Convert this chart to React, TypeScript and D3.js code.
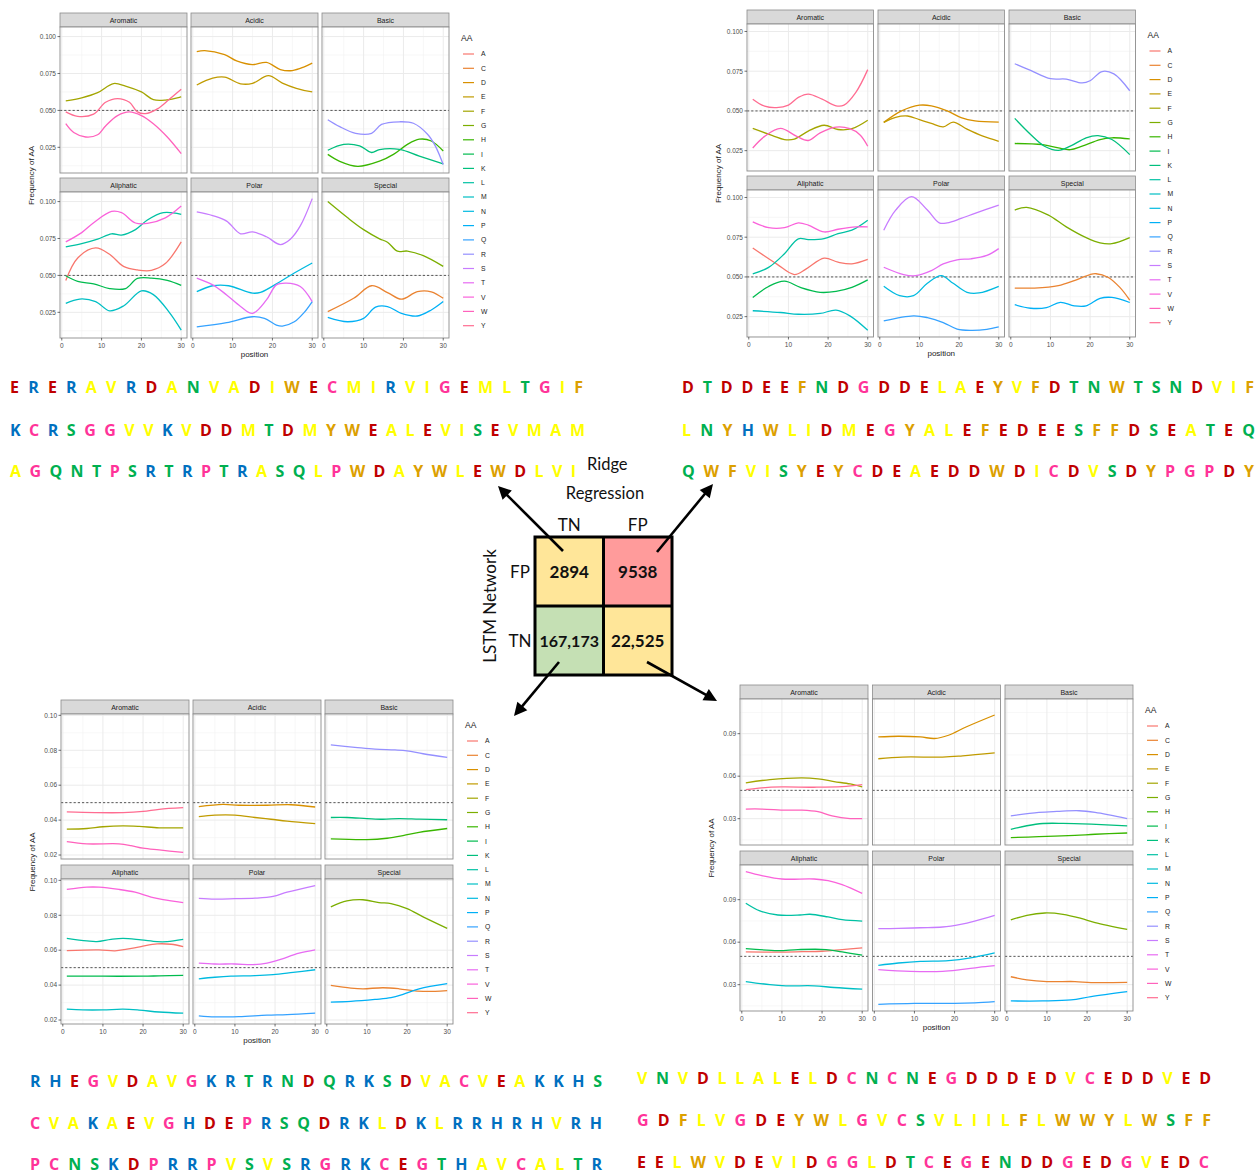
import React from 'react';
import * as d3 from 'd3';

const W = 1259;
const H = 1174;

// amino acid levels in legend order
const aaLevels = ['A', 'C', 'D', 'E', 'F', 'G', 'H', 'I', 'K', 'L', 'M', 'N', 'P', 'Q', 'R', 'S', 'T', 'V', 'W', 'Y'];
// ggplot default hue palette for 20 levels
const aaPalette = ['#F8766D', '#EA8331', '#D89000', '#C09B00', '#A3A500', '#7CAE00', '#39B600', '#00BB4E', '#00BF7D', '#00C1A3',
  '#00BFC4', '#00BAE0', '#00B0F6', '#35A2FF', '#9590FF', '#C77CFF', '#E76BF3', '#FA62DB', '#FF62BC', '#FF6C91'];
const facetNames = ['Aromatic', 'Acidic', 'Basic', 'Aliphatic', 'Polar', 'Special'];
const facetMembers = [['F', 'W', 'Y'], ['D', 'E'], ['H', 'K', 'R'], ['A', 'I', 'L', 'M', 'V'], ['N', 'Q', 'S', 'T'], ['C', 'G', 'P']];
const xTicks = [0, 10, 20, 30];
const xMinor = [5, 15, 25];

// smoothed frequency per position, [position, frequency]
const tlFreq: Record<string, number[][]> = {
  F: [[1, 0.0565], [5, 0.0585], [9, 0.062], [13, 0.0682], [16, 0.0665], [20, 0.0625], [23, 0.0573], [26, 0.057], [30, 0.0592]],
  Y: [[1, 0.049], [4, 0.046], [8, 0.0475], [11, 0.0555], [14, 0.058], [17, 0.0555], [19, 0.049], [21, 0.0478], [24, 0.051], [27, 0.0575], [30, 0.0643]],
  W: [[1, 0.041], [3, 0.035], [6, 0.032], [9, 0.0335], [11, 0.0395], [14, 0.0465], [17, 0.049], [20, 0.0465], [23, 0.041], [26.5, 0.032], [30, 0.0207]],
  D: [[1, 0.0898], [3, 0.0905], [8, 0.0878], [11, 0.0835], [15, 0.081], [18.5, 0.0825], [22, 0.0777], [25, 0.077], [28, 0.0795], [30, 0.082]],
  E: [[1, 0.0672], [5, 0.0718], [8, 0.0725], [12, 0.068], [15, 0.0683], [19, 0.0735], [22.5, 0.0685], [26, 0.065], [30, 0.0625]],
  R: [[1, 0.0437], [4, 0.039], [8, 0.0345], [12, 0.0345], [14.5, 0.0405], [19, 0.0423], [22.5, 0.0413], [26, 0.034], [28, 0.026], [30, 0.0133]],
  K: [[1, 0.023], [5, 0.027], [9, 0.026], [12, 0.0215], [14, 0.0235], [19, 0.0236], [24, 0.019], [30, 0.0138]],
  H: [[1, 0.0202], [4, 0.0155], [8.5, 0.0121], [14, 0.0156], [17.5, 0.0202], [21, 0.027], [24, 0.0305], [27, 0.0293], [30, 0.0225]],
  V: [[1, 0.0727], [5, 0.079], [8, 0.0857], [12.5, 0.0933], [15, 0.0925], [18.5, 0.0855], [21.5, 0.0852], [26, 0.089], [30, 0.097]],
  L: [[1, 0.0693], [5, 0.0715], [9, 0.0745], [12.5, 0.0782], [15, 0.0773], [18.5, 0.081], [21.5, 0.0875], [25.5, 0.0925], [30, 0.0914]],
  A: [[1, 0.0466], [4, 0.0618], [8.5, 0.0686], [12, 0.0643], [15.5, 0.0561], [19, 0.0537], [22.5, 0.0534], [26, 0.058], [30, 0.0727]],
  I: [[1, 0.0498], [4, 0.046], [8, 0.0443], [12, 0.0411], [16, 0.0411], [19, 0.048], [22.5, 0.0482], [26.5, 0.0466], [30, 0.0432]],
  M: [[1, 0.0311], [4.5, 0.034], [8.5, 0.0323], [12, 0.026], [15.5, 0.0293], [20, 0.0395], [23, 0.037], [27, 0.025], [30, 0.013]],
  S: [[1, 0.093], [5, 0.0905], [8.5, 0.0868], [12, 0.0782], [15, 0.0795], [18.5, 0.0762], [22, 0.0709], [24.5, 0.0745], [27, 0.0835], [30, 0.102]],
  N: [[1, 0.039], [5, 0.043], [9, 0.043], [15, 0.038], [17, 0.0385], [22, 0.0459], [25.5, 0.0516], [30, 0.0584]],
  T: [[1, 0.0482], [5, 0.0436], [8.5, 0.0368], [12, 0.029], [15, 0.0243], [18.5, 0.0334], [21, 0.0436], [23.5, 0.0448], [27, 0.0425], [30, 0.0323]],
  Q: [[1, 0.0152], [8.5, 0.018], [15, 0.022], [18, 0.0209], [21, 0.0164], [22.5, 0.0157], [25.5, 0.0186], [28, 0.025], [30, 0.0323]],
  G: [[1, 0.1], [6, 0.089], [10, 0.081], [14, 0.0748], [16, 0.0725], [18.5, 0.0664], [21, 0.0665], [25, 0.0634], [30, 0.0561]],
  C: [[1, 0.0255], [7.5, 0.0345], [12, 0.043], [16, 0.0384], [19.5, 0.0339], [23.5, 0.039], [27, 0.0389], [30, 0.0345]],
  P: [[1, 0.0216], [6, 0.0186], [10, 0.0209], [13, 0.0285], [16, 0.0289], [19.5, 0.0243], [23.5, 0.0225], [27, 0.0266], [30, 0.0323]],
};

const trFreq: Record<string, number[][]> = {
  Y: [[1, 0.0574], [4, 0.053], [7, 0.0521], [10, 0.0537], [12.5, 0.0585], [15, 0.0606], [18.5, 0.0574], [22, 0.0532], [24, 0.0536], [27, 0.0617], [30, 0.076]],
  F: [[1, 0.039], [6, 0.0345], [9, 0.032], [11.5, 0.0323], [15, 0.0373], [19, 0.041], [22.5, 0.0383], [26, 0.0388], [30, 0.0441]],
  W: [[1, 0.0267], [4, 0.034], [8, 0.039], [12, 0.0341], [15, 0.0314], [18, 0.0362], [22, 0.0398], [25.5, 0.0388], [28, 0.035], [30, 0.0278]],
  D: [[1, 0.0428], [5.5, 0.05], [10, 0.0536], [13, 0.0532], [17, 0.05], [20.5, 0.0458], [24, 0.0437], [30, 0.043]],
  E: [[1, 0.0428], [4, 0.046], [7, 0.0468], [10, 0.0445], [13, 0.0422], [16, 0.04], [18.5, 0.043], [22, 0.0385], [26, 0.0341], [30, 0.0309]],
  R: [[1, 0.0797], [5, 0.0755], [10, 0.0703], [14, 0.07], [18, 0.0676], [20, 0.069], [23, 0.0748], [26, 0.0733], [30, 0.0627]],
  K: [[1, 0.0453], [5, 0.0352], [8.5, 0.0278], [12, 0.0252], [15, 0.0278], [19, 0.0331], [22, 0.0345], [25.5, 0.032], [30, 0.0225]],
  H: [[1, 0.0295], [8, 0.0288], [12, 0.0267], [15, 0.0256], [18, 0.0278], [22.5, 0.032], [25.5, 0.0331], [30, 0.0324]],
  V: [[1, 0.0847], [5, 0.081], [9, 0.081], [12.5, 0.084], [15, 0.0826], [19, 0.0783], [22.5, 0.08], [27, 0.0815], [30, 0.0815]],
  L: [[1, 0.0519], [5, 0.056], [9, 0.0646], [12.5, 0.074], [15, 0.0735], [19, 0.0741], [22.5, 0.0773], [26, 0.0794], [30, 0.0857]],
  A: [[1, 0.0682], [7, 0.0582], [11.5, 0.0515], [14.5, 0.0551], [19, 0.0618], [22.5, 0.0593], [26, 0.0582], [30, 0.061]],
  I: [[1, 0.0371], [5, 0.044], [9, 0.0473], [13, 0.0434], [18, 0.0403], [22, 0.0409], [26, 0.0434], [30, 0.0481]],
  M: [[1, 0.0287], [8, 0.0276], [12.5, 0.0265], [18, 0.027], [22, 0.0291], [25.5, 0.0255], [30, 0.0164]],
  S: [[1, 0.0794], [4, 0.092], [8, 0.1005], [12, 0.0921], [15, 0.084], [17, 0.084], [20.5, 0.0868], [24, 0.09], [30, 0.0952]],
  T: [[1, 0.0561], [6, 0.0515], [9, 0.0508], [13, 0.054], [16, 0.0582], [19.5, 0.0608], [23, 0.0614], [27, 0.0635], [30, 0.0678]],
  N: [[1, 0.0441], [5, 0.0382], [8.5, 0.0382], [12, 0.046], [15.5, 0.0508], [18.5, 0.046], [22, 0.0403], [25, 0.0399], [30, 0.0441]],
  Q: [[1, 0.0223], [8.5, 0.0255], [12, 0.0244], [16, 0.0213], [19.5, 0.0172], [23, 0.0164], [27, 0.017], [30, 0.0185]],
  G: [[1, 0.0921], [4, 0.0938], [9.5, 0.0889], [14, 0.0815], [19, 0.0747], [22.5, 0.0714], [25.5, 0.0709], [30, 0.0747]],
  C: [[1, 0.043], [6, 0.043], [12, 0.0445], [16, 0.0477], [20, 0.0515], [21.5, 0.052], [24.5, 0.0498], [27.5, 0.0434], [30, 0.0354]],
  P: [[1, 0.0325], [5, 0.0303], [9, 0.0307], [12.5, 0.034], [16, 0.0318], [19, 0.0318], [22.5, 0.0365], [25.5, 0.0371], [30, 0.0339]],
};

const blFreq: Record<string, number[][]> = {
  Y: [[1, 0.0447], [8, 0.0443], [15, 0.0443], [20, 0.045], [24, 0.0462], [30, 0.0471]],
  F: [[1, 0.0348], [6, 0.0352], [10, 0.0362], [15, 0.0367], [19, 0.0364], [24, 0.0356], [30, 0.0356]],
  W: [[1, 0.0277], [6, 0.0264], [14, 0.0264], [17, 0.0254], [20, 0.0239], [24, 0.0229], [30, 0.0215]],
  D: [[1, 0.0477], [7, 0.049], [11, 0.0485], [18, 0.0485], [24, 0.0488], [30, 0.0475]],
  E: [[1, 0.042], [5, 0.0428], [10, 0.0428], [15, 0.0415], [19, 0.0405], [23, 0.0394], [30, 0.038]],
  R: [[1, 0.0831], [7, 0.0817], [12, 0.0806], [17, 0.0802], [20, 0.0797], [24, 0.078], [30, 0.0759]],
  K: [[1, 0.0415], [5, 0.0415], [10, 0.0409], [14, 0.0405], [18, 0.0409], [23, 0.0406], [30, 0.0402]],
  H: [[1, 0.0292], [10, 0.0288], [15, 0.0296], [19, 0.0311], [23, 0.033], [30, 0.0352]],
  V: [[1, 0.0948], [6, 0.0961], [9, 0.0961], [14, 0.0948], [18, 0.0932], [22, 0.0904], [25, 0.0889], [30, 0.0872]],
  L: [[1, 0.0668], [6, 0.0653], [8.5, 0.0649], [12, 0.0662], [15, 0.0668], [19.5, 0.0659], [23.5, 0.0649], [26, 0.0649], [30, 0.0662]],
  A: [[1, 0.0598], [9, 0.0602], [13, 0.0596], [16, 0.0606], [19.5, 0.0621], [23.5, 0.0636], [27, 0.0634], [30, 0.0621]],
  I: [[1, 0.0451], [10, 0.0451], [20, 0.0451], [24, 0.0453], [30, 0.0456]],
  M: [[1, 0.0262], [5, 0.0258], [10, 0.0258], [15, 0.0262], [19, 0.0257], [24, 0.0246], [30, 0.0239]],
  S: [[1, 0.0897], [5, 0.0893], [10, 0.0895], [15, 0.0898], [19.5, 0.0908], [23, 0.0932], [30, 0.097]],
  T: [[1, 0.0526], [5, 0.0521], [10, 0.0521], [14.5, 0.0517], [18, 0.0526], [21, 0.0545], [26, 0.0583], [30, 0.0602]],
  N: [[1, 0.0436], [5, 0.0445], [9, 0.0451], [15, 0.0454], [19.5, 0.046], [24.5, 0.0473], [30, 0.0488]],
  Q: [[1, 0.0224], [5, 0.0218], [11, 0.022], [18, 0.0228], [23, 0.0231], [30, 0.0239]],
  G: [[1, 0.0848], [5, 0.0882], [9, 0.0889], [13, 0.0873], [16, 0.0867], [20, 0.0838], [24, 0.0791], [30, 0.0725]],
  C: [[1, 0.0398], [6, 0.0383], [9, 0.0379], [14, 0.0385], [18, 0.0379], [22.5, 0.0366], [27, 0.0364], [30, 0.0369]],
  P: [[1, 0.0303], [6, 0.0307], [12, 0.0318], [16, 0.0328], [19, 0.0347], [23, 0.0379], [30, 0.0409]],
};

const brFreq: Record<string, number[][]> = {
  F: [[1, 0.0553], [7, 0.0576], [15, 0.0588], [19, 0.0581], [23, 0.0562], [27, 0.0545], [30, 0.0525]],
  Y: [[1, 0.0505], [5, 0.0518], [10, 0.0524], [18, 0.0522], [25, 0.0526], [30, 0.054]],
  W: [[1, 0.0368], [5, 0.0368], [11, 0.036], [15, 0.036], [19, 0.0349], [22.5, 0.032], [27, 0.0301], [30, 0.0301]],
  D: [[1, 0.0877], [6, 0.0882], [11.5, 0.0877], [15, 0.0866], [18.5, 0.0889], [23, 0.0949], [30, 0.1032]],
  E: [[1, 0.0723], [7, 0.0735], [17, 0.0735], [22, 0.0744], [30, 0.0764]],
  R: [[1, 0.032], [8, 0.0344], [12.5, 0.0351], [18, 0.0356], [22, 0.0344], [30, 0.0301]],
  K: [[1, 0.0224], [5, 0.025], [9, 0.0266], [14, 0.0267], [21, 0.0261], [30, 0.0249]],
  H: [[1, 0.0166], [8, 0.0173], [17, 0.0182], [22, 0.019], [30, 0.0199]],
  V: [[1, 0.1098], [5, 0.107], [10, 0.1046], [18, 0.1046], [21.5, 0.1034], [25, 0.1006], [30, 0.0944]],
  L: [[1, 0.0875], [4.5, 0.0821], [9, 0.0792], [14.5, 0.0792], [17, 0.0797], [21.5, 0.0778], [25, 0.0759], [30, 0.0749]],
  I: [[1, 0.0555], [9, 0.0541], [14, 0.0548], [21, 0.0548], [25, 0.0531], [30, 0.0508]],
  A: [[1, 0.0531], [9, 0.053], [15, 0.0533], [20, 0.0536], [25, 0.0548], [30, 0.056]],
  M: [[1, 0.0322], [7, 0.03], [11, 0.0292], [18, 0.0292], [23, 0.028], [30, 0.0268]],
  S: [[1, 0.0695], [6, 0.0697], [11.5, 0.0702], [17, 0.0707], [21.5, 0.0726], [25, 0.0749], [30, 0.079]],
  N: [[1, 0.0436], [6, 0.0453], [11.5, 0.0465], [18.5, 0.047], [24, 0.0489], [30, 0.0524]],
  T: [[1, 0.0406], [9, 0.0394], [17, 0.0394], [21.5, 0.0406], [26, 0.0422], [30, 0.0434]],
  Q: [[1, 0.0161], [10, 0.0168], [20, 0.0168], [25, 0.0172], [30, 0.018]],
  G: [[1, 0.0757], [5, 0.079], [9.5, 0.0806], [14, 0.0797], [18.5, 0.0768], [22, 0.0738], [30, 0.069]],
  C: [[1, 0.0356], [5, 0.0334], [10, 0.0322], [17, 0.0322], [21, 0.0315], [30, 0.0316]],
  P: [[1, 0.0185], [9, 0.0185], [16, 0.0192], [21, 0.0216], [30, 0.0251]],
};

// y ticks per chart
const tlTicks = [0.025, 0.05, 0.075, 0.1];
const trTicks = [0.025, 0.05, 0.075, 0.1];
const blTicks = [0.02, 0.04, 0.06, 0.08, 0.1];
const brTicks = [0.03, 0.06, 0.09];

// sequences of each block
const tlSeq = ['ERERAVRDANVADIWECMIRVIGEMLTGIF', 'KCRSGGVVKVDDMTDMYWEALEVISEVMAM', 'AGQNTPSRTRPTRASQLPWDAYWLEWDLVI'];
const trSeq = ['DTDDEEFNDGDDELAEYVFDTNWTSNDVIF', 'LNYHWLIDMEGYALEFEDEESFFDSEATEQ', 'QWFVISYEYCDEAEDDWDICDVSDYPGPDY'];
const blSeq = ['RHEGVDAVGKRTRNDQRKSDVACVEAKKHS', 'CVAKAEVGHDEPRSQDRKLDKLRRHRHVRH', 'PCNSKDPRRPVSVSRGRKCEGTHAVCALTR'];
const brSeq = ['VNVDLLALELDCNCNEGDDDEDVCEDDVED', 'GDFLVGDEYWLGVCSVLIILFLWWYLWSFF', 'EELWVDEVIDGGLDTCEGENDDGEDGVEDC'];

// confusion matrix counts
const rowLabels = ['FP', 'TN'];
const colLabels = ['TN', 'FP'];
const counts = [['2894', '9538'], ['167,173', '22,525']];
const cellFill = [['#ffe699', '#ff9b9b'], ['#c5e0b4', '#ffe699']];

const groupColor: Record<string, string> = {
  D: '#c00000', E: '#c00000',
  H: '#0070c0', K: '#0070c0', R: '#0070c0',
  A: '#ffff00', I: '#ffff00', L: '#ffff00', M: '#ffff00', V: '#ffff00',
  F: '#dca000', W: '#dca000', Y: '#dca000',
  N: '#00b050', Q: '#00b050', S: '#00b050', T: '#00b050',
  C: '#ff3399', G: '#ff3399', P: '#ff3399',
};

const hue = d3.scaleOrdinal<string, string>().domain(aaLevels).range(aaPalette);

const gg = 'Liberation Sans, Arial, sans-serif';

const FacetChart = ({cfg, series}) => {
  const {left, top, panelW, gapX, stripH, panelH, gapY, ticks, fmt} = cfg;
  const vals = Object.values(series).flat().map((d: any) => d[1]);
  const [lo, hi] = d3.extent(vals) as [number, number];
  const pad = (hi - lo) * 0.05;
  const y = d3.scaleLinear().domain([lo - pad, hi + pad]).range([panelH, 0]);
  const x = d3.scaleLinear().domain([1 - 29 * 0.05, 30 + 29 * 0.05]).range([0, panelW]);
  const step = ticks[1] - ticks[0];
  const minor = d3.range(ticks[0] - step / 2, hi + pad, step).filter(v => v > lo - pad);
  const line = d3.line<number[]>().x(d => x(d[0])).y(d => y(d[1])).curve(d3.curveCatmullRom.alpha(0.5));
  const f = d3.format(fmt);
  const rightEdge = left + 3 * panelW + 2 * gapX;
  const fullBottom = top + 2 * (stripH + panelH) + gapY;
  const lx = rightEdge + 13;

  return (
    <g>
      {facetNames.map((name, i) => {
        const col = i % 3;
        const row = Math.floor(i / 3);
        const px = left + col * (panelW + gapX);
        const sy = top + row * (stripH + panelH + gapY);
        const py = sy + stripH;
        return (
          <g key={name}>
            <rect x={px} y={sy} width={panelW} height={stripH} fill="#d9d9d9" stroke="#8c8c8c" strokeWidth={0.8} />
            <text x={px + panelW / 2} y={sy + stripH / 2 + 2.5} textAnchor="middle" fontSize={7} fontFamily={gg} fill="#1a1a1a">{name}</text>
            <g transform={`translate(${px},${py})`}>
              <rect width={panelW} height={panelH} fill="#fff" />
              {minor.map(v => <line key={'ym' + v} x1={0} x2={panelW} y1={y(v)} y2={y(v)} stroke="#f2f2f2" strokeWidth={0.6} />)}
              {xMinor.map(v => <line key={'xm' + v} y1={0} y2={panelH} x1={x(v)} x2={x(v)} stroke="#f2f2f2" strokeWidth={0.6} />)}
              {ticks.map(v => <line key={'y' + v} x1={0} x2={panelW} y1={y(v)} y2={y(v)} stroke="#ebebeb" strokeWidth={1} />)}
              {xTicks.map(v => <line key={'x' + v} y1={0} y2={panelH} x1={x(v)} x2={x(v)} stroke="#ebebeb" strokeWidth={1} />)}
              <line x1={0} x2={panelW} y1={y(0.05)} y2={y(0.05)} stroke="#444" strokeWidth={0.9} strokeDasharray="2.2,2" />
              {facetMembers[i].slice().sort((a, b) => aaLevels.indexOf(a) - aaLevels.indexOf(b)).map(aa => (
                <path key={aa} d={line(series[aa]) || ''} fill="none" stroke={hue(aa)} strokeWidth={1.3} />
              ))}
              <rect width={panelW} height={panelH} fill="none" stroke="#8c8c8c" strokeWidth={0.9} />
              {col === 0 && ticks.map(v => (
                <g key={'yl' + v}>
                  <line x1={-2.5} x2={0} y1={y(v)} y2={y(v)} stroke="#333" strokeWidth={0.7} />
                  <text x={-4} y={y(v) + 2.3} textAnchor="end" fontSize={6.5} fontFamily={gg} fill="#4d4d4d">{f(v)}</text>
                </g>
              ))}
              {row === 1 && xTicks.map(v => (
                <g key={'xl' + v}>
                  <line x1={x(v)} x2={x(v)} y1={panelH} y2={panelH + 2.5} stroke="#333" strokeWidth={0.7} />
                  <text x={x(v)} y={panelH + 9.5} textAnchor="middle" fontSize={6.5} fontFamily={gg} fill="#4d4d4d">{v}</text>
                </g>
              ))}
            </g>
          </g>
        );
      })}
      <text transform={`translate(${left - 26},${(top + fullBottom) / 2}) rotate(-90)`} textAnchor="middle" fontSize={8} fontFamily={gg} fill="#1a1a1a">Frequency of AA</text>
      <text x={left + 1.5 * panelW + gapX} y={fullBottom + 19} textAnchor="middle" fontSize={8} fontFamily={gg} fill="#1a1a1a">position</text>
      <text x={lx - 1} y={top + 28} fontSize={8.5} fontFamily={gg} fill="#1a1a1a">AA</text>
      {aaLevels.map((aa, i) => {
        const ly = top + 41 + i * 14.3;
        return (
          <g key={aa}>
            <line x1={lx + 1} x2={lx + 12} y1={ly} y2={ly} stroke={hue(aa)} strokeWidth={1.2} />
            <text x={lx + 19} y={ly + 2.4} fontSize={6.8} fontFamily={gg} fill="#1a1a1a">{aa}</text>
          </g>
        );
      })}
    </g>
  );
};

const SeqBlock = ({rows, x, widths, ys}) => (
  <g>
    {rows.map((s: string, r: number) => (
      <text key={r} x={x} y={ys[r]} fontSize={16} fontWeight="bold" fontFamily="'Open Sans', Lato, sans-serif" textLength={widths[r]} lengthAdjust="spacing">
        {s.split('').map((c, i) => (
          <tspan key={i} fill={groupColor[c]}>{c + (i < s.length - 1 ? ' ' : '')}</tspan>
        ))}
      </text>
    ))}
  </g>
);

const arrows = [
  [563, 551, 498, 486],
  [657, 552, 713, 484],
  [559, 662, 514, 716],
  [647, 662, 717, 701],
];

const Arrow = ({a}) => {
  const [x1, y1, x2, y2] = a;
  const len = Math.hypot(x2 - x1, y2 - y1);
  const ux = (x2 - x1) / len;
  const uy = (y2 - y1) / len;
  const hl = 13;
  const hw = 6.5;
  const bx = x2 - ux * hl;
  const by = y2 - uy * hl;
  const pts = [[x2, y2], [bx - uy * hw, by + ux * hw], [bx + uy * hw, by - ux * hw]];
  return (
    <g>
      <line x1={x1} y1={y1} x2={bx + ux * 2} y2={by + uy * 2} stroke="#000" strokeWidth={2.6} />
      <polygon points={pts.map(p => p.join(',')).join(' ')} fill="#000" />
    </g>
  );
};

const Matrix = () => {
  const x0 = 535;
  const y0 = 537;
  const cw = 68.5;
  const ch = 69;
  const font = "Lato, 'Open Sans', sans-serif";
  return (
    <g>
      {counts.map((row, r) => row.map((v, c) => (
        <g key={r + '-' + c}>
          <rect x={x0 + c * cw} y={y0 + r * ch} width={cw} height={ch} fill={cellFill[r][c]} />
          <text x={x0 + c * cw + cw / 2} y={y0 + r * ch + ch / 2 + 6} textAnchor="middle" fontSize={v.length > 6 ? 16 : 17} fontWeight="bold" fontFamily={font} fill="#111">{v}</text>
        </g>
      )))}
      <rect x={x0} y={y0} width={2 * cw} height={2 * ch} fill="none" stroke="#000" strokeWidth={3} />
      <line x1={x0 + cw} x2={x0 + cw} y1={y0} y2={y0 + 2 * ch} stroke="#000" strokeWidth={3} />
      <line x1={x0} x2={x0 + 2 * cw} y1={y0 + ch} y2={y0 + ch} stroke="#000" strokeWidth={3} />
      {colLabels.map((l, c) => (
        <text key={'c' + c} x={x0 + c * cw + cw / 2} y={y0 - 6} textAnchor="middle" fontSize={17} fontFamily={font} fill="#111">{l}</text>
      ))}
      {rowLabels.map((l, r) => (
        <text key={'r' + r} x={x0 - 15} y={y0 + r * ch + ch / 2 + 6} textAnchor="middle" fontSize={17} fontFamily={font} fill="#111">{l}</text>
      ))}
      <text transform={`translate(${x0 - 39},${y0 + ch}) rotate(-90)`} textAnchor="middle" fontSize={17} fontFamily={font} fill="#111">LSTM Network</text>
      <text x={587} y={470} fontSize={16.5} fontFamily={font} fill="#111">Ridge</text>
      <text x={605} y={499} textAnchor="middle" fontSize={16.5} fontFamily={font} fill="#111">Regression</text>
    </g>
  );
};

const tlCfg = {left: 60, top: 13, panelW: 127, gapX: 4, stripH: 14, panelH: 146, gapY: 5, ticks: tlTicks, fmt: '.3f'};
const trCfg = {left: 747, top: 10, panelW: 126.5, gapX: 4.5, stripH: 14, panelH: 147, gapY: 5, ticks: trTicks, fmt: '.3f'};
const blCfg = {left: 61, top: 700, panelW: 128, gapX: 4, stripH: 14, panelH: 145, gapY: 6, ticks: blTicks, fmt: '.2f'};
const brCfg = {left: 740, top: 685, panelW: 128, gapX: 4.5, stripH: 14, panelH: 146, gapY: 6, ticks: brTicks, fmt: '.2f'};

export default function App() {
  return (
    <svg width={W} height={H} style={{position: 'absolute', left: 0, top: 0, background: '#fff'}}>
      <rect width={W} height={H} fill="#fff" />
      <FacetChart cfg={tlCfg} series={tlFreq} />
      <FacetChart cfg={trCfg} series={trFreq} />
      <FacetChart cfg={blCfg} series={blFreq} />
      <FacetChart cfg={brCfg} series={brFreq} />
      <SeqBlock rows={tlSeq} x={10} widths={[573, 575, 566]} ys={[393, 436, 477]} />
      <SeqBlock rows={trSeq} x={682} widths={[572, 573, 572]} ys={[393, 436, 477]} />
      <SeqBlock rows={blSeq} x={30} widths={[572, 572, 572]} ys={[1087, 1129, 1170]} />
      <SeqBlock rows={brSeq} x={637} widths={[574, 574, 572]} ys={[1084, 1126, 1168]} />
      <Matrix />
      {arrows.map((a, i) => <Arrow key={i} a={a} />)}
    </svg>
  );
}
